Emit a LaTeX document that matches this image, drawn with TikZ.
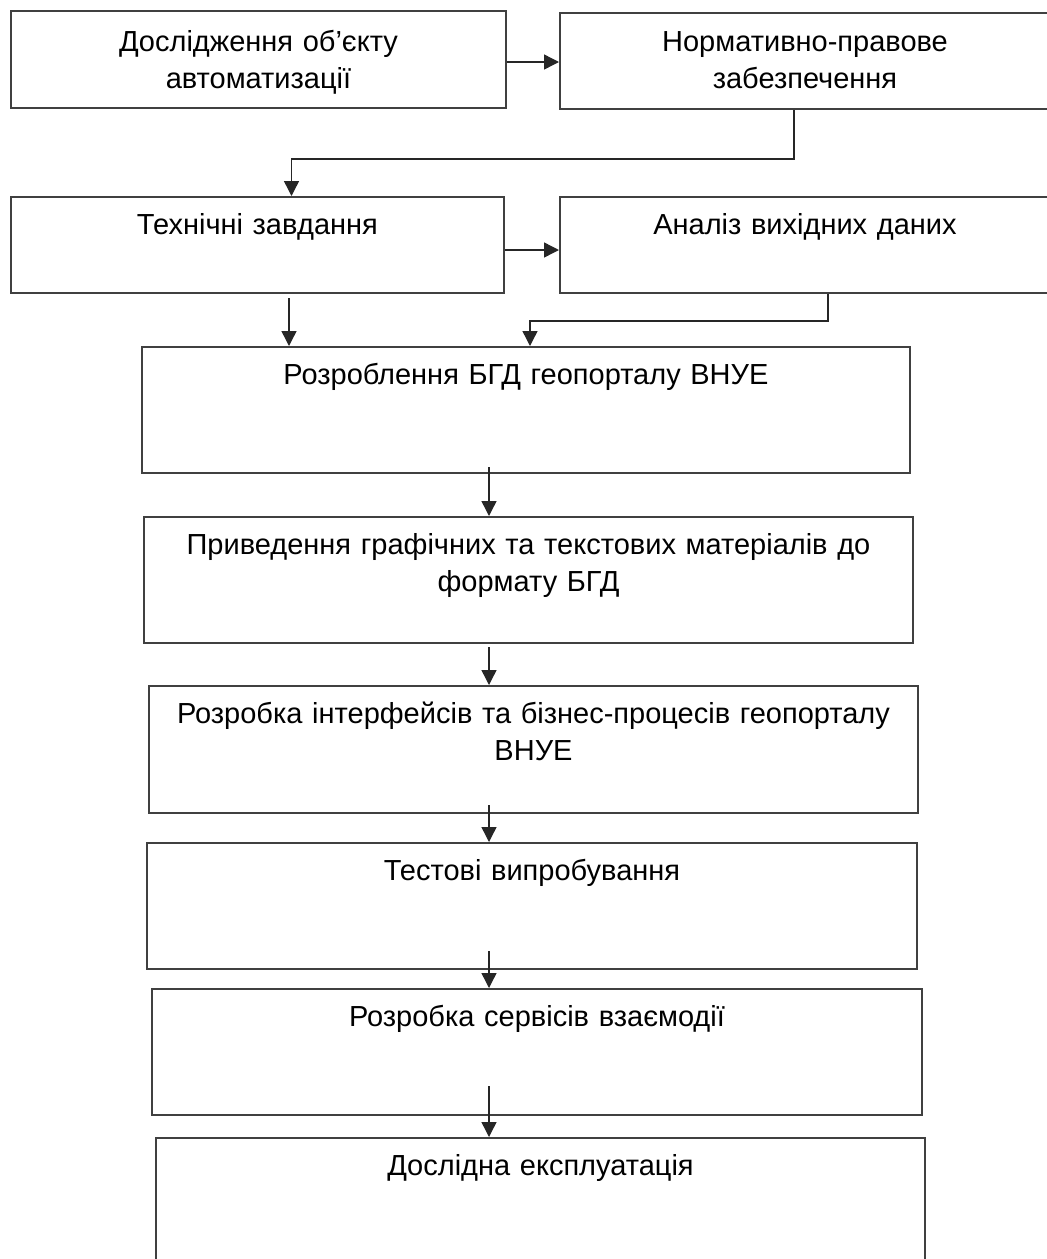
\documentclass[tikz,border=0pt]{standalone}
\usepackage{fontspec}
\setmainfont{Liberation Sans}
\usetikzlibrary{arrows.meta, calc}

\begin{document}
\begin{tikzpicture}[x=0.5pt, y=-0.5pt,
  stage/.style={draw=black!75, line width=1pt, anchor=north west, inner sep=0pt,
    align=center, text height=18.75pt, font=\fontsize{14.5pt}{18.5pt}\selectfont},
  flow/.style={draw=black!85, line width=0.7pt, -{Triangle[length=7.5pt, width=7.5pt]}}]
\useasboundingbox (0,0) rectangle (1047,1259);
\node[stage, text width=247.5pt, text height=20pt, text depth=28.5pt] (b1) at (10,10) {Дослідження об’єкту\\автоматизації};
\node[stage, text width=245pt, text height=19pt, text depth=29pt] (b2) at (559,12) {Нормативно-правове\\забезпечення};
\node[stage, text width=246.5pt, text depth=29.25pt] (b3) at (10,196) {Технічні завдання};
\node[stage, text width=245pt, text depth=29.25pt] (b4) at (559,196) {Аналіз вихідних даних};
\node[stage, text width=384pt, text depth=44.25pt] (b5) at (141,346) {Розроблення БГД геопорталу ВНУЕ};
\node[stage, text width=384.5pt, text depth=44.25pt] (b6) at (143,516) {Приведення графічних та текстових матеріалів до\\формату БГД};
\node[stage, text width=384.5pt, text depth=44.75pt] (b7) at (148,685) {Розробка інтерфейсів та бізнес-процесів геопорталу\\ВНУЕ};
\node[stage, text width=385pt, text depth=44.25pt] (b8) at (146,842) {Тестові випробування};
\node[stage, text width=385pt, text depth=44.25pt] (b9) at (151,988) {Розробка сервісів взаємодії};
\node[stage, text width=384.5pt, text depth=51.25pt] (b10) at (155,1137) {Дослідна експлуатація};

% links between the upper boxes
\draw[flow] ([yshift=-1.25pt]b1.east) -- ([yshift=-1.25pt]b1.east -| b2.west);
\draw[flow] ([xshift=-5.5pt]b2.south) -- ++(0,49) -| ([xshift=17pt]b3.north);
\draw[flow] ([yshift=-2.5pt]b3.east) -- ([yshift=-2.5pt]b3.east -| b4.west);
\draw[flow] ([xshift=15.75pt, yshift=-2pt]b3.south) -- ([xshift=15.75pt]b3.south |- b5.north);
\draw[flow] ([xshift=11.5pt]b4.south) -- ++(0,27) -| ([xshift=2pt]b5.north);

% main column
\coordinate (spine) at (489,0);
\foreach \a/\b/\gap in {b5/b6/-7, b6/b7/3, b7/b8/-9, b8/b9/-19, b9/b10/-30}
  \draw[flow] ($(\a.south -| spine)+(0,\gap)$) -- (\b.north -| spine);
\end{tikzpicture}
\end{document}
